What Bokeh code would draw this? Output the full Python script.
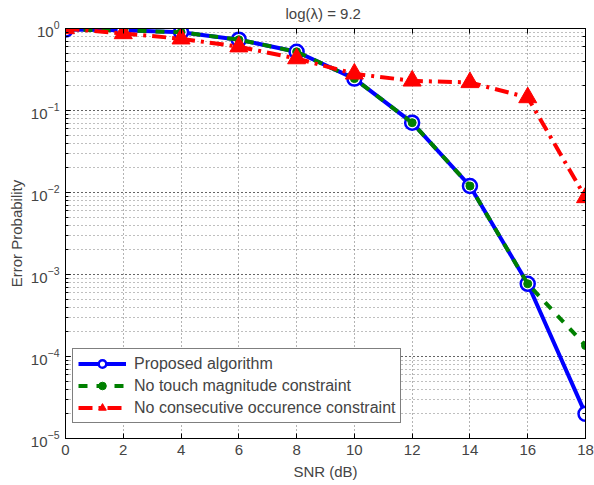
from bokeh.plotting import figure
from bokeh.models import Range1d, LinearAxis, LogAxis, FixedTicker, Legend, LegendItem, CustomJSTickFormatter
from bokeh.embed import file_html
from bokeh.resources import INLINE

snr = [0, 2, 4, 6, 8, 10, 12, 14, 16, 18]
proposed = [0.97, 0.95, 0.90, 0.73, 0.52, 0.245, 0.071, 0.012, 7.7e-4, 2.0e-5]
no_touch = [0.97, 0.95, 0.90, 0.73, 0.52, 0.245, 0.071, 0.012, 7.7e-4, 1.36e-4]
no_consec = [1.0, 0.87, 0.75, 0.60, 0.43, 0.28, 0.23, 0.22, 0.144, 0.0087]
x_ticks = [0, 2, 4, 6, 8, 10, 12, 14, 16, 18]

FONT = "Liberation Sans"
FS = "15px"

p = figure(width=594, height=485, output_backend="svg", toolbar_location=None,
           y_axis_type="log", x_range=Range1d(0, 18), y_range=Range1d(1e-5, 1),
           min_border_left=65, min_border_right=9, min_border_top=28, min_border_bottom=47,
           title="log(λ) = 9.2")
p.title.align = "left"
p.title.text_font = FONT
p.title.text_font_size = FS
p.title.text_font_style = "normal"
p.title.standoff = 5
p.title.offset = 220
p.outline_line_color = "black"
p.outline_line_width = 1

# grid
p.xgrid.ticker = FixedTicker(ticks=x_ticks)
for g in (p.xgrid, p.ygrid):
    g.grid_line_color = "black"
    g.grid_line_dash = "1 3"
    g.grid_line_alpha = 0.6
p.ygrid.minor_grid_line_color = "black"
p.ygrid.minor_grid_line_dash = "1 3"
p.ygrid.minor_grid_line_alpha = 0.5

# axes
p.xaxis.ticker = FixedTicker(ticks=x_ticks)
p.xaxis.axis_label = "SNR (dB)"
p.yaxis.axis_label = "Error Probability"
for ax in (p.xaxis[0], p.yaxis[0]):
    ax.axis_label_text_font = FONT
    ax.axis_label_text_font_size = FS
    ax.axis_label_text_font_style = "normal"
    ax.major_label_text_font = FONT
    ax.major_label_text_font_size = FS
    ax.major_tick_in = 5
    ax.major_tick_out = 0
    ax.minor_tick_in = 3
    ax.minor_tick_out = 0
    ax.axis_line_color = "black"
    ax.major_tick_line_color = "black"
    ax.minor_tick_line_color = "black"
p.xaxis.axis_label_standoff = 5
p.xaxis.major_label_standoff = 6
p.yaxis.axis_label_standoff = 3
p.yaxis.major_label_standoff = 6

top = LinearAxis(ticker=FixedTicker(ticks=x_ticks), formatter=CustomJSTickFormatter(code="return ' '"),
                 major_label_text_font_size="1px", major_label_standoff=0,
                 major_tick_in=5, major_tick_out=0, minor_tick_in=0, minor_tick_out=0)
right = LogAxis(formatter=CustomJSTickFormatter(code="return ' '"),
                major_label_text_font_size="1px", major_label_standoff=0,
                major_tick_in=5, major_tick_out=0, minor_tick_in=3, minor_tick_out=0)
p.add_layout(top, "above")
p.add_layout(right, "right")

# series
r_b_line = p.line(snr, proposed, line_color="blue", line_width=4)
r_b_mark = p.scatter(snr, proposed, marker="circle", size=14, line_color="blue",
                     line_width=2.5, fill_color="white")
r_g_line = p.line(snr, no_touch, line_color="green", line_width=4, line_dash="9 9")
r_g_mark = p.scatter(snr, no_touch, marker="circle", size=8, line_color="green",
                     fill_color="green")
r_r_line = p.line(snr, no_consec, line_color="red", line_width=4, line_dash="14 6 3 6")
r_r_mark = p.scatter(snr, no_consec, marker="triangle", size=18, line_color="red",
                     fill_color="red")

legend = Legend(items=[
    LegendItem(label="Proposed algorithm", renderers=[r_b_line, r_b_mark]),
    LegendItem(label="No touch magnitude constraint", renderers=[r_g_line, r_g_mark]),
    LegendItem(label="No consecutive occurence constraint", renderers=[r_r_line, r_r_mark]),
], location=(7, 15))
legend.label_text_font = FONT
legend.label_text_font_size = "16px"
legend.glyph_width = 48
legend.glyph_height = 19
legend.label_standoff = 8
legend.spacing = 3
legend.padding = 5
legend.margin = 0
legend.border_line_color = "black"
legend.border_line_width = 1
legend.background_fill_alpha = 1
p.add_layout(legend, "center")

open("out.html", "w").write(file_html(p, INLINE))
